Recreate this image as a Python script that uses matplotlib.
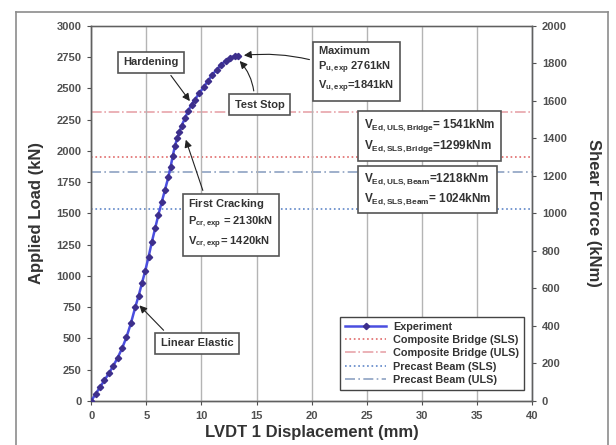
import matplotlib
matplotlib.use('Agg')
from matplotlib import pyplot as plt
from matplotlib.lines import Line2D
import numpy as np

plt.rcParams['font.family'] = ['Liberation Sans', 'DejaVu Sans']
plt.rcParams['font.weight'] = 'bold'
plt.rcParams['axes.labelweight'] = 'bold'
plt.rcParams['mathtext.fontset'] = 'custom'
plt.rcParams['mathtext.rm'] = 'Liberation Sans:bold'
plt.rcParams['mathtext.it'] = 'Liberation Sans:bold'
plt.rcParams['mathtext.bf'] = 'Liberation Sans:bold'

# --------------- Messwerte (LVDT 1 / Pressenkraft) ---------------
verschiebung = [0.0, 0.4, 0.8, 1.2, 1.6, 2.0, 2.4, 2.8, 3.2, 3.6, 4.0, 4.3, 4.6,
                4.9, 5.2, 5.5, 5.8, 6.1, 6.4, 6.7, 7.0, 7.2, 7.4, 7.6, 7.8, 8.0,
                8.2, 8.5, 8.8, 9.1, 9.4, 9.8, 10.2, 10.6, 11.0, 11.4, 11.8, 12.2,
                12.6, 13.0, 13.3]
last = [0, 55, 110, 165, 220, 280, 345, 420, 510, 620, 750, 840, 940,
        1040, 1150, 1270, 1380, 1490, 1590, 1690, 1790, 1870, 1960, 2040, 2100, 2150,
        2200, 2260, 2320, 2370, 2410, 2460, 2510, 2560, 2610, 2650, 2690, 2720,
        2745, 2758, 2761]

# Bemessungsquerkraefte (kNm) fuer Bruecke und Fertigteiltraeger
grenz_namen = ['Composite Bridge (SLS)', 'Composite Bridge (ULS)',
               'Precast Beam (SLS)', 'Precast Beam (ULS)']
grenz_werte = [1299, 1541, 1024, 1218]
grenz_farben = ['#e06a6a', '#e8a4aa', '#5f86c8', '#8ea2c2']
grenz_stile = [':', '-.', ':', (0, (6, 2, 1, 2))]

x_ticks = np.arange(0, 45, 5)
y_ticks_last = np.arange(0, 3250, 250)
y_ticks_quer = np.arange(0, 2200, 200)

textfarbe = '#333333'
tickfarbe = '#505050'

fig = plt.figure(figsize=(6.16, 4.45), dpi=100)
ax1 = fig.add_axes([0.148, 0.099, 0.716, 0.843])
ax2 = ax1.twinx()
ax1.set_zorder(ax2.get_zorder() + 1)
ax1.patch.set_visible(False)

# Grenzlinien auf der Querkraftachse
for name, wert, farbe, stil in zip(grenz_namen, grenz_werte, grenz_farben, grenz_stile):
    ax2.axhline(wert, color=farbe, ls=stil, lw=1.2, label=name)

# Versuchskurve
ax1.plot(verschiebung, last, color='#4a4ee0', lw=1.8, marker='D', ms=3.2,
         mfc='#3d2f8c', mec='#3d2f8c', label='Experiment', zorder=5)

# Achsen
ax1.set_xlim(0, 40)
ax1.set_ylim(0, 3000)
ax2.set_ylim(0, 2000)
ax1.set_xticks(x_ticks)
ax1.set_yticks(y_ticks_last)
ax2.set_yticks(y_ticks_quer)
ax1.grid(axis='x', color='#b4b4b4', lw=1.0)
ax1.set_axisbelow(True)

for ax in (ax1, ax2):
    ax.tick_params(labelsize=8, colors=tickfarbe, length=3, pad=4)
    for sp in ax.spines.values():
        sp.set_color('#606060')
        sp.set_linewidth(1.0)
ax2.spines['right'].set_color('#6a7480')
ax2.spines['top'].set_color('#a0a0a0')

ax1.set_xlabel('LVDT 1 Displacement (mm)', fontsize=12, color=textfarbe,
               va='center', ha='center')
ax1.set_ylabel('Applied Load (kN)', fontsize=12, color=textfarbe,
               va='center', ha='center')
ax2.set_ylabel('Shear Force (kNm)', fontsize=12, color=textfarbe,
               rotation=-90, va='center', ha='center')
ax1.xaxis.set_label_coords(0.5, -0.083)
ax1.yaxis.set_label_coords(-0.125, 0.5)
ax2.yaxis.set_label_coords(1.138, 0.5)

# Beschriftungen mit Pfeilen
box = dict(boxstyle='square,pad=0.5', fc='white', ec='#555555', lw=1.2)


def pfeil(rad=0.0, rel=(0.5, 0.5)):
    return dict(arrowstyle='-|>', color='#222222', lw=0.8, mutation_scale=11,
                connectionstyle='arc3,rad=%s' % rad, relpos=rel)


ax1.annotate('Hardening', xy=(9.1, 2380), xytext=(2.9, 2710), fontsize=8,
             color=textfarbe, va='center', ha='left', bbox=box,
             arrowprops=pfeil(0, (0.75, 0.0)))
ax1.annotate('Test Stop', xy=(13.3, 2735), xytext=(13.0, 2368), fontsize=8,
             color=textfarbe, va='center', ha='left', bbox=box,
             arrowprops=pfeil(0.2, (0.4, 1.0)))
ax1.annotate(r'$\mathrm{Maximum}$' '\n' r'$P_{u,exp}\ 2761kN$' '\n' r'$V_{u,exp}$=1841kN',
             xy=(13.6, 2761), xytext=(20.6, 2650), fontsize=8, linespacing=1.3,
             color=textfarbe, va='center', ha='left', bbox=box,
             arrowprops=pfeil(0.1, (0.0, 0.65)))
ax1.annotate(r'$\mathrm{First\ Cracking}$' '\n' r'$P_{cr,exp}$ = 2130kN' '\n'
             r'$V_{cr,exp}$= 1420kN',
             xy=(8.5, 2110), xytext=(8.8, 1415), fontsize=8, linespacing=1.3,
             color=textfarbe, va='center', ha='left', bbox=box,
             arrowprops=pfeil(0, (0.2, 1.0)))
ax1.annotate('Linear Elastic', xy=(4.2, 780), xytext=(6.3, 460), fontsize=8,
             color=textfarbe, va='center', ha='left', bbox=box,
             arrowprops=pfeil(0, (0.15, 1.0)))
ax1.text(24.7, 2120, '$V_{Ed,ULS,Bridge}$= 1541kNm\n$V_{Ed,SLS,Bridge}$=1299kNm',
         fontsize=8.5, linespacing=1.35, color=textfarbe, va='center', ha='left',
         bbox=box)
ax1.text(24.7, 1690, '$V_{Ed,ULS,Beam}$=1218kNm\n$V_{Ed,SLS,Beam}$= 1024kNm',
         fontsize=8.5, linespacing=1.35, color=textfarbe, va='center', ha='left',
         bbox=box)

# Legende unten rechts
h1, l1 = ax1.get_legend_handles_labels()
h2, l2 = ax2.get_legend_handles_labels()
leg = ax1.legend(h1 + h2, l1 + l2, loc='upper left', bbox_to_anchor=(0.565, 0.224),
                 fontsize=7.8, frameon=True, fancybox=False, framealpha=1,
                 edgecolor='#444444', handlelength=3.8, labelspacing=0.3,
                 borderpad=0.45, handletextpad=0.6, borderaxespad=0)
leg.get_frame().set_linewidth(1.0)
for t in leg.get_texts():
    t.set_color(textfarbe)

# Rahmen um das ganze Bild
rahmen = dict(color='#8c8c8c', lw=1.2, transform=fig.transFigure)
fig.add_artist(Line2D([0.026, 0.026], [0.0, 0.973], **rahmen))
fig.add_artist(Line2D([0.987, 0.987], [0.0, 0.973], **rahmen))
fig.add_artist(Line2D([0.026, 0.987], [0.973, 0.973], **rahmen))

fig.savefig('out.png', dpi=100, facecolor='white')
